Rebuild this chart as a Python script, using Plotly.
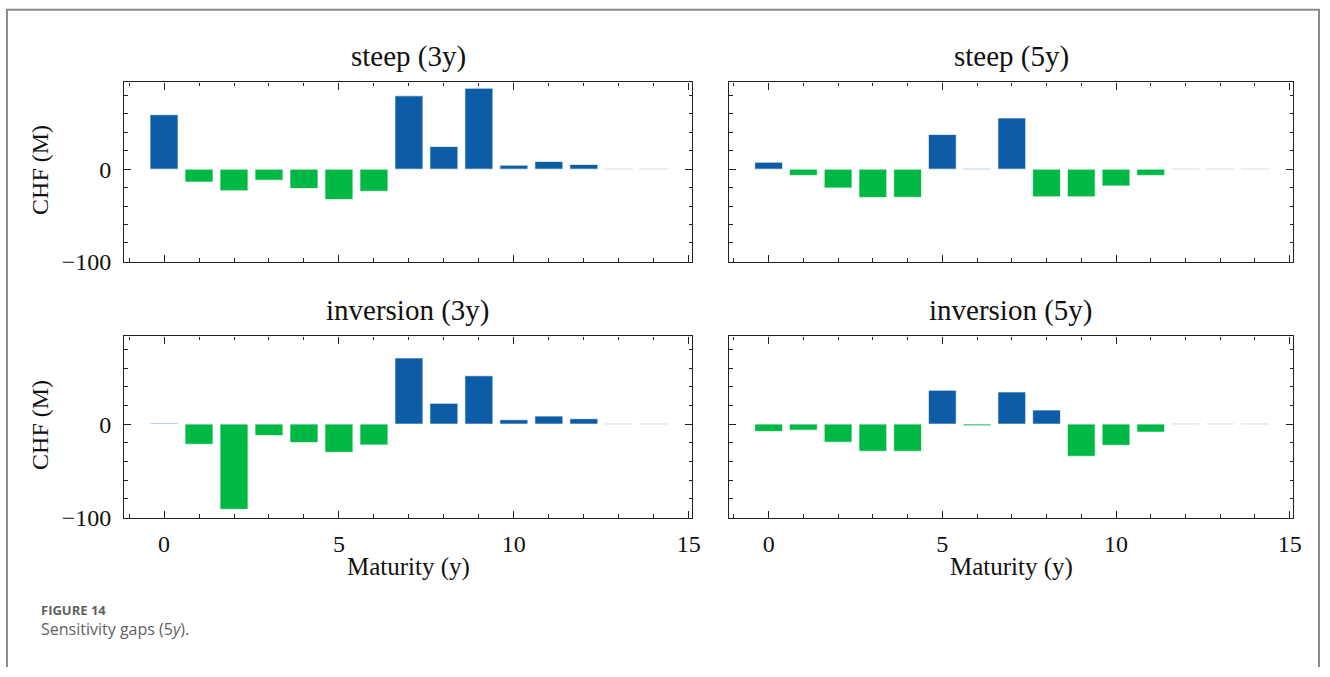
import plotly.graph_objects as go

W, H = 1330, 677

maturity = list(range(15))
steep_3y = [59, -14, -23.5, -12, -21, -33, -24, 79.4, 24.5, 87.7, 4.3, 8.3, 5.1, 0.3, 0.3]
steep_5y = [7.5, -6.8, -20.4, -30.7, -30.5, 37.5, 0.7, 55.4, -30, -30, -18.2, -6.8, 0.3, 0.3, 0.3]
inversion_3y = [1.0, -21.6, -91.4, -12.2, -19.8, -30.2, -22.3, 70.9, 22.3, 51.8, 4.7, 8.6, 5.8, 0.3, 0.3]
inversion_5y = [-7.9, -6.5, -19.4, -29.1, -29.1, 36.3, -1.8, 34.5, 15.1, -34.5, -22.7, -8.6, 0.3, 0.3, 0.3]

panel_titles = ["steep (3y)", "steep (5y)", "inversion (3y)", "inversion (5y)"]
panel_values = [steep_3y, steep_5y, inversion_3y, inversion_5y]
# tiny values that render as faint placeholder bars
ghost_values = {0: [13, 14], 1: [12, 13, 14], 2: [13, 14], 3: [12, 13, 14]}

x_ticks = [0, 5, 10, 15]
y_ticks = [-100, 0]
x_label = "Maturity (y)"
y_label = "CHF (M)"
caption_head = "FIGURE 14"
caption_text = "Sensitivity gaps (5<i>y</i>)."

BLUE = "#0C5DA5"
GREEN = "#00B945"
GHOST = "#e6eaee"
SERIF = "Liberation Serif, DejaVu Serif, serif"

def px(x):
    return x / W

def py(y):
    return 1 - y / H

# panel pixel boxes (left, right, top, bottom)
boxes = [
    (125, 697, 84, 267),
    (734, 1302, 84, 267),
    (125, 697, 343, 528),
    (734, 1302, 343, 528),
]

fig = go.Figure()

for i, (vals, title) in enumerate(zip(panel_values, panel_titles)):
    n = i + 1
    colors = []
    for j, v in enumerate(vals):
        if j in ghost_values[i]:
            colors.append(GHOST)
        elif v >= 0:
            colors.append(BLUE)
        else:
            colors.append(GREEN)
    line_colors = [GHOST if c == GHOST else "rgba(255,255,255,0.7)" for c in colors]
    fig.add_trace(go.Bar(
        x=maturity, y=vals, width=0.8,
        marker=dict(color=colors, line=dict(color=line_colors, width=1)),
        xaxis="x" if n == 1 else f"x{n}",
        yaxis="y" if n == 1 else f"y{n}",
        showlegend=False,
    ))
    l, r, t, b = boxes[i]
    xa = dict(
        domain=[px(l), px(r)], range=[-1.14, 15.1],
        anchor="y" if n == 1 else f"y{n}",
        tickmode="array", tickvals=x_ticks,
        ticks="inside", ticklen=7, tickwidth=1.2, tickcolor="#222",
        minor=dict(tickmode="linear", tick0=0, dtick=1, ticks="inside", ticklen=3.5, tickwidth=1, tickcolor="#222"),
        showline=True, linecolor="#222", linewidth=1.3, mirror="allticks",
        showgrid=False, zeroline=False,
        showticklabels=(i >= 2),
        tickfont=dict(family=SERIF, size=24, color="#111"),
        ticklabelstandoff=4,
    )
    ya = dict(
        domain=[py(b), py(t)], range=[-100.5, 94],
        anchor="x" if n == 1 else f"x{n}",
        tickmode="array", tickvals=y_ticks,
        ticks="inside", ticklen=7, tickwidth=1.2, tickcolor="#222",
        minor=dict(tickmode="linear", tick0=0, dtick=20, ticks="inside", ticklen=3.5, tickwidth=1, tickcolor="#222"),
        showline=True, linecolor="#222", linewidth=1.3, mirror="allticks",
        showgrid=False, zeroline=False,
        showticklabels=(i % 2 == 0),
        tickfont=dict(family=SERIF, size=24, color="#111"),
        ticklabelstandoff=7,
    )
    fig.update_layout(**{("xaxis" if n == 1 else f"xaxis{n}"): xa,
                         ("yaxis" if n == 1 else f"yaxis{n}"): ya})
    fig.add_annotation(
        text=title, x=px((l + r) / 2), y=py(t - 26), xref="paper", yref="paper",
        showarrow=False, xanchor="center", yanchor="middle",
        font=dict(family=SERIF, size=29, color="#111"),
    )
    if i % 2 == 0:
        fig.add_annotation(
            text=y_label, x=px(40), y=py((t + b) / 2 - 2), xref="paper", yref="paper",
            showarrow=False, textangle=-90, xanchor="center", yanchor="middle",
            font=dict(family=SERIF, size=24, color="#111"),
        )
    if i >= 2:
        fig.add_annotation(
            text=x_label, x=px((l + r) / 2), y=py(578), xref="paper", yref="paper",
            showarrow=False, xanchor="center", yanchor="middle",
            font=dict(family=SERIF, size=25, color="#111"),
        )

fig.add_annotation(
    text=f"<b>{caption_head}</b>", x=px(39), y=py(622), xref="paper", yref="paper",
    showarrow=False, xanchor="left", yanchor="middle",
    font=dict(family="Open Sans, Lato, sans-serif", size=13, color="#5f5f5f"),
)
fig.add_annotation(
    text=caption_text, x=px(39), y=py(641), xref="paper", yref="paper",
    showarrow=False, xanchor="left", yanchor="middle",
    font=dict(family="Open Sans, Lato, sans-serif", size=16, color="#5f5f5f"),
)

# outer frame (open at the bottom)
fig.add_shape(
    type="path", xref="paper", yref="paper",
    path=f"M {px(7)},{py(680)} L {px(7)},{py(10)} L {px(1328)},{py(10)} L {px(1328)},{py(680)}",
    line=dict(color="#8a8a8a", width=2),
)

fig.update_layout(
    width=W, height=H,
    margin=dict(l=0, r=0, t=0, b=0),
    paper_bgcolor="white", plot_bgcolor="white",
    bargap=0.2,
)

fig.write_html(
    "out.html",
    config={"displayModeBar": False},
    post_script="document.body.style.margin='0';document.body.style.overflow='hidden';",
)
